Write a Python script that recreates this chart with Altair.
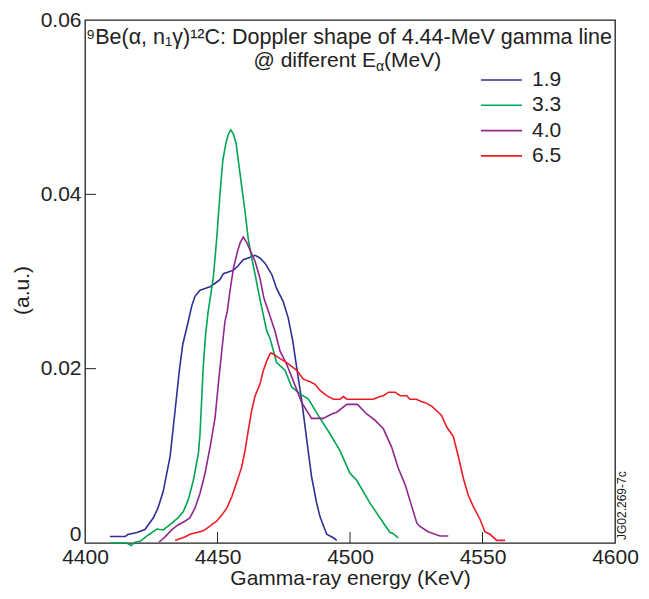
import altair as alt
import pandas as pd

# ---- data ----
series_names = ["1.9", "3.3", "4.0", "6.5"]
series_colors = ["#2E3192", "#00A651", "#92278F", "#ED1C24"]

e_19 = [4409.4, 4415.1, 4416.2, 4419.6, 4422.6, 4425.8, 4427.5, 4429.5, 4432.1, 4434.0,
        4435.6, 4436.9, 4438.4, 4440.3, 4441.5, 4443.4, 4445.3, 4447.2, 4449.1, 4450.9,
        4452.2, 4454.1, 4456.0, 4457.8, 4459.7, 4461.6, 4464.2, 4466.0, 4467.9, 4470.5,
        4472.3, 4474.8, 4476.7, 4478.4, 4479.9, 4481.8, 4483.7, 4485.5, 4487.4, 4488.7,
        4491.2, 4493.7, 4495.0]
v_19 = [0.00074, 0.00074, 0.00097, 0.0012, 0.00154, 0.0029, 0.0040, 0.0059, 0.0099, 0.0152,
        0.0198, 0.0228, 0.0247, 0.0272, 0.0283, 0.0290, 0.0292, 0.0294, 0.0298, 0.0302,
        0.0309, 0.0311, 0.0313, 0.0318, 0.0325, 0.0327, 0.0330, 0.0327, 0.0321, 0.0308,
        0.0292, 0.0277, 0.0258, 0.0232, 0.0201, 0.0163, 0.0118, 0.0076, 0.0046, 0.0030,
        0.0010, 0.0006, 0.0003]

e_33 = [4409.4, 4415.8, 4417.4, 4418.9, 4420.8, 4423.3, 4427.1, 4429.5, 4432.1, 4435.2,
        4437.1, 4439.0, 4440.9, 4442.8, 4443.4, 4444.0, 4444.6, 4445.5, 4446.5, 4448.4,
        4449.7, 4450.9, 4452.0, 4453.2, 4454.1, 4455.0, 4456.0, 4457.0, 4457.8, 4459.1,
        4460.4, 4461.6, 4462.9, 4464.2, 4465.4, 4466.7, 4468.6, 4469.8, 4472.3, 4475.5,
        4478.0, 4481.1, 4484.3, 4488.7, 4492.5, 4496.2, 4500.0, 4502.5, 4507.5, 4512.6,
        4515.1, 4516.2, 4518.2]
v_33 = [0.0, 0.0, -0.0003, 0.0001, 0.0002, 0.0008, 0.0016, 0.0015, 0.0021, 0.0029,
        0.0036, 0.0050, 0.0072, 0.0103, 0.0125, 0.0163, 0.0201, 0.0239, 0.0266, 0.0304,
        0.0349, 0.0399, 0.0439, 0.0459, 0.0469, 0.0474, 0.0469, 0.0459, 0.0440, 0.0410,
        0.0380, 0.0349, 0.0327, 0.0308, 0.0289, 0.0270, 0.0243, 0.0235, 0.0207, 0.0198,
        0.0179, 0.0171, 0.0165, 0.0143, 0.0125, 0.0106, 0.0080, 0.0072, 0.0046, 0.0023,
        0.0012, 0.0011, 0.0006]

e_40 = [4427.9, 4429.1, 4430.2, 4432.7, 4435.2, 4437.7, 4439.6, 4441.5, 4443.4, 4445.3,
        4447.2, 4449.1, 4450.3, 4451.6, 4452.8, 4453.7, 4454.7, 4456.0, 4457.5, 4458.5,
        4459.7, 4461.0, 4462.3, 4464.2, 4466.0, 4467.5, 4469.2, 4471.7, 4473.6, 4476.1,
        4478.6, 4481.8, 4485.5, 4489.9, 4493.1, 4495.0, 4498.8, 4502.8, 4506.3, 4509.4,
        4512.6, 4515.7, 4518.2, 4520.8, 4523.3, 4525.2, 4526.4, 4529.5, 4532.1, 4534.0,
        4537.1]
v_40 = [0.0001, 0.0004, 0.0007, 0.0015, 0.0021, 0.0025, 0.0029, 0.0040, 0.0057, 0.0080,
        0.0110, 0.0144, 0.0182, 0.0220, 0.0254, 0.0266, 0.0289, 0.0315, 0.0334, 0.0344,
        0.0351, 0.0345, 0.0336, 0.0323, 0.0304, 0.0281, 0.0266, 0.0243, 0.0220, 0.0205,
        0.0186, 0.0161, 0.0143, 0.0143, 0.0148, 0.0150, 0.0159, 0.0159, 0.0148, 0.0141,
        0.0131, 0.0110, 0.0086, 0.0067, 0.0042, 0.0023, 0.0019, 0.0013, 0.0010, 0.0008,
        0.0008]

e_65 = [4434.0, 4435.8, 4437.7, 4439.6, 4442.2, 4444.6, 4446.5, 4447.8, 4449.7, 4451.6,
        4453.5, 4455.4, 4457.2, 4459.1, 4460.4, 4461.6, 4462.9, 4464.2, 4466.0, 4467.3,
        4468.6, 4469.8, 4470.4, 4472.9, 4476.1, 4479.9, 4482.4, 4484.9, 4486.8, 4488.7,
        4491.2, 4493.7, 4496.2, 4497.5, 4498.8, 4502.5, 4508.8, 4511.3, 4512.6, 4514.5,
        4517.0, 4518.9, 4521.4, 4522.6, 4525.1, 4526.4, 4528.3, 4530.8, 4533.3, 4534.6,
        4536.5, 4539.0, 4540.9, 4542.8, 4544.6, 4546.5, 4549.1, 4550.9, 4552.8, 4555.4,
        4558.5]
v_65 = [0.0003, 0.0005, 0.0007, 0.0010, 0.0012, 0.0014, 0.0018, 0.0021, 0.0025, 0.0032,
        0.0040, 0.0053, 0.0069, 0.0087, 0.0106, 0.0129, 0.0152, 0.0169, 0.0182, 0.0198,
        0.0209, 0.0217, 0.0218, 0.0213, 0.0207, 0.0198, 0.0188, 0.0185, 0.0182, 0.0175,
        0.0169, 0.0165, 0.0165, 0.0168, 0.0165, 0.0165, 0.0165, 0.0168, 0.0169, 0.0173,
        0.0173, 0.0169, 0.0169, 0.0165, 0.0165, 0.0163, 0.0161, 0.0157, 0.0150, 0.0146,
        0.0133, 0.0122, 0.0099, 0.0074, 0.0055, 0.0042, 0.0027, 0.0013, 0.0010, 0.0003,
        0.0003]

x_ticks = [4400, 4450, 4500, 4550, 4600]
y_ticks = [0, 0.02, 0.04, 0.06]
title_line1 = "⁹Be(α, n₁γ)¹²C: Doppler shape of 4.44-MeV gamma line"
title_line2a = "@ different E"
title_line2b = "α"
title_line2c = "(MeV)"
x_title = "Gamma-ray energy (KeV)"
y_title = "(a.u.)"
stamp = "JG02.269-7c"

# ---- build table ----
frames = []
for name, e, v in zip(series_names, [e_19, e_33, e_40, e_65], [v_19, v_33, v_40, v_65]):
    frames.append(pd.DataFrame({"energy": e, "value": v, "series": name, "i": range(len(e))}))
df = pd.concat(frames, ignore_index=True)

FONT = "Liberation Sans"
FS = 21
W, H = 530, 523
INK = "#222222"

xscale = alt.Scale(domain=[4400, 4600], nice=False)
yscale = alt.Scale(domain=[0, 0.06], nice=False, zero=False)
cscale = alt.Scale(domain=series_names, range=series_colors)

lines = alt.Chart(df).mark_line(strokeWidth=1.6, clip=False).encode(
    x=alt.X("energy:Q", scale=xscale, title=x_title,
            axis=alt.Axis(values=x_ticks, format="d", tickSize=0, domain=False, grid=False,
                          labelFontSize=FS, labelPadding=3, labelFlush=False,
                          titleFontSize=FS, titleFontWeight="normal",
                          titleY=41, titleBaseline="alphabetic")),
    y=alt.Y("value:Q", scale=yscale, title=y_title,
            axis=alt.Axis(values=y_ticks, format="~g", tickSize=0, domain=False, grid=False,
                          labelFontSize=FS, labelPadding=4, labelFlush=False,
                          labelOffset={"condition": {"test": "datum.value == 0", "value": -9},
                                       "value": 0},
                          titleFontSize=FS, titleFontWeight="normal",
                          titleX=-63, titleY=270, titleAngle=270,
                          titleAlign="center", titleBaseline="middle")),
    color=alt.Color("series:N", scale=cscale, legend=None),
    order="i:Q",
    detail="series:N",
)

xt = alt.Chart(pd.DataFrame({"t": x_ticks[1:-1]})).mark_rule(color=INK, strokeWidth=1).encode(
    x=alt.X("t:Q", scale=xscale), y=alt.value(H), y2=alt.value(H - 11))
yt = alt.Chart(pd.DataFrame({"t": y_ticks[1:-1]})).mark_rule(color=INK, strokeWidth=1).encode(
    y=alt.Y("t:Q", scale=yscale), x=alt.value(0), x2=alt.value(11))

def txt(s, x, y, size=FS, align="center", baseline="alphabetic", angle=0):
    kw = dict(font=FONT, fontSize=size, color=INK, align=align, baseline=baseline)
    if angle:
        kw["angle"] = angle
    return alt.Chart(pd.DataFrame({"s": [s]})).mark_text(**kw).encode(
        text="s:N", x=alt.value(x), y=alt.value(y))

texts = [
    txt(title_line1, 264, 24, size=21.5),
    txt(title_line2a, 291, 47, align="right"),
    txt(title_line2b, 291, 51, size=14, align="left"),
    txt(title_line2c, 299, 47, align="left"),
    txt(stamp, 537, 520, size=12, align="left", baseline="middle", angle=270),
]

legend_layers = []
for k, (name, col) in enumerate(zip(series_names, series_colors)):
    yy = 60 + k * 25.3
    legend_layers.append(
        alt.Chart(pd.DataFrame({"s": [name]})).mark_rule(color=col, strokeWidth=1.6).encode(
            x=alt.value(396), x2=alt.value(437), y=alt.value(yy)))
    legend_layers.append(txt(name, 447, yy, align="left", baseline="middle"))

chart = alt.layer(lines, xt, yt, *texts, *legend_layers).properties(
    width=W, height=H,
    autosize=alt.AutoSizeParams(type="none"),
    padding={"left": 77, "top": 12, "right": 26, "bottom": 50},
).configure(font=FONT).configure_view(
    stroke=INK, strokeWidth=1.3
).configure_axis(
    labelColor=INK, titleColor=INK, labelFont=FONT, titleFont=FONT
)

chart.save("out.html", embed_options={"renderer": "svg", "actions": False})
